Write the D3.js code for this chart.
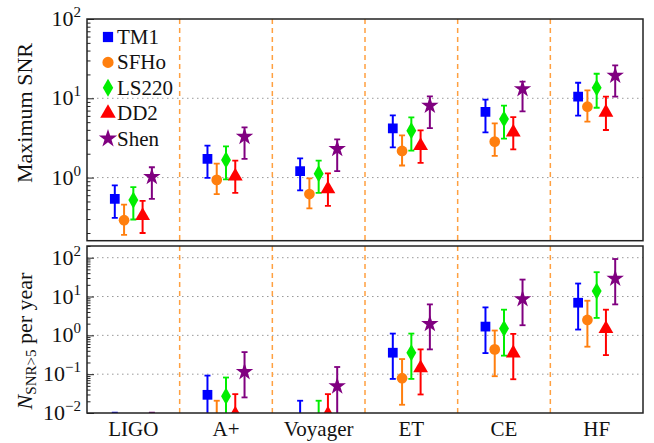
<!DOCTYPE html>
<html><head><meta charset="utf-8">
<script src="https://cdn.jsdelivr.net/npm/d3@7"></script>
</head><body style="margin:0">
<svg id="c" width="654" height="443"></svg>
<script>
const detectors = ["LIGO","A+","Voyager","ET","CE","HF"];
const eos = ["TM1","SFHo","LS220","DD2","Shen"];
const colors = ["#0000ff","#ff7f0e","#00ee00","#ff0000","#800080"];

// Maximum SNR: [value, lower, upper] per detector, per EOS
const snrTM1   = [[0.54,0.31,0.80],[1.72,0.99,2.53],[1.21,0.69,1.75],[4.18,2.41,6.1],[6.72,3.72,9.6],[10.5,6.04,15.7]];
const snrSFHo  = [[0.29,0.19,0.457],[0.935,0.62,1.5],[0.62,0.41,0.98],[2.17,1.42,3.41],[2.84,1.88,4.83],[7.84,5.07,12.6]];
const snrLS220 = [[0.52,0.296,0.76],[1.67,0.95,2.48],[1.12,0.64,1.64],[3.91,2.19,5.74],[5.48,3.1,8.07],[13.6,7.6,20.4]];
const snrDD2   = [[0.34,0.20,0.51],[1.07,0.64,1.64],[0.74,0.44,1.13],[2.6,1.53,3.94],[3.83,2.27,5.8],[6.84,3.98,10.5]];
const snrShen  = [[1.02,0.54,1.35],[3.28,1.72,4.3],[2.3,1.21,3.04],[8.07,4.2,10.6],[13.1,6.84,16.2],[19.3,10.5,26]];

// N_{SNR>5} per year: [value, lower, upper]
const rateTM1   = [[0.0001,0.00001,0.0102],[0.0294,0.001,0.092],[0.004,0.0005,0.0207],[0.357,0.0755,1.11],[1.68,0.349,5.25],[6.92,1.41,21.6]];
const rateSFHo  = [[0.0001,0.00001,0.005],[0.006,0.001,0.0207],[0.0001,0.00001,0.008],[0.0787,0.0163,0.245],[0.435,0.0886,1.33],[2.49,0.51,7.79]];
const rateLS220 = [[0.0001,0.00001,0.005],[0.0272,0.001,0.082],[0.004,0.0005,0.0207],[0.357,0.0755,1.11],[1.5,0.30,4.58],[13.8,2.81,42.3]];
const rateDD2   = [[0.0001,0.00001,0.005],[0.0098,0.001,0.0306],[0.0098,0.001,0.0306],[0.153,0.030,0.435],[0.37,0.074,1.09],[1.56,0.31,4.58]];
const rateShen  = [[0.0001,0.00001,0.0102],[0.114,0.0252,0.37],[0.049,0.005,0.153],[1.97,0.435,6.27],[8.6,1.82,27.3],[29,6.27,92.5]];

const snrSeries = [snrTM1,snrSFHo,snrLS220,snrDD2,snrShen];
const rateSeries = [rateTM1,rateSFHo,rateLS220,rateDD2,rateShen];

const topTicks = [1,10,100];
const botTicks = [0.01,0.1,1,10,100];

const FONT = '"Liberation Serif", serif';
const svg = d3.select("#c");
const L = 87, R = 643;
const x = d3.scaleBand().domain(detectors).range([L, R]);
const bw = x.bandwidth();
const yTop = d3.scaleLog().domain([0.16, 100]).range([240.7, 19]);
const yBot = d3.scaleLog().domain([0.01, 200]).range([413, 246]);

const symbols = [d3.symbolSquare, d3.symbolCircle, d3.symbolDiamond, d3.symbolTriangle, d3.symbolStar];
const sizes = [95, 90, 85, 95, 95];

function minorTicks(y){
  const [a,b] = y.domain();
  const out = [];
  for (let e = Math.floor(Math.log10(a)); e <= Math.ceil(Math.log10(b)); e++){
    for (let m = 2; m <= 9; m++){
      const v = m*Math.pow(10,e);
      if (v >= a && v <= b) out.push(v);
    }
  }
  return out;
}

function txt(sel){ return sel.style("font-family", FONT).attr("fill", "#111"); }

function panel(y, series, majors, gridVals, id){
  const [y0, y1] = y.range();
  const g = svg.append("g");
  svg.append("clipPath").attr("id", id).append("rect")
    .attr("x", L).attr("y", y1).attr("width", R-L).attr("height", y0-y1);
  g.selectAll("line.grid").data(gridVals).join("line")
    .attr("x1", L).attr("x2", R).attr("y1", d=>y(d)).attr("y2", d=>y(d))
    .attr("stroke", "#999").attr("stroke-width", 1).attr("stroke-dasharray", "1.5,3.5");
  g.selectAll("line.sep").data(detectors.slice(0,-1)).join("line")
    .attr("x1", d=>x(d)+bw).attr("x2", d=>x(d)+bw).attr("y1", y1).attr("y2", y0)
    .attr("stroke", "#ffa040").attr("stroke-width", 1.5).attr("stroke-dasharray", "5,4");
  const dg = g.append("g").attr("clip-path", `url(#${id})`);
  series.forEach((ser, i) => {
    const sg = dg.append("g");
    ser.forEach((d, j) => {
      const cx = x(detectors[j]) + bw/2 + (i-2)*0.1*bw;
      sg.append("line").attr("x1", cx).attr("x2", cx).attr("y1", y(d[1])).attr("y2", y(d[2]))
        .attr("stroke", colors[i]).attr("stroke-width", 2);
      [d[1], d[2]].forEach(v => {
        sg.append("line").attr("x1", cx-3).attr("x2", cx+3).attr("y1", y(v)).attr("y2", y(v))
          .attr("stroke", colors[i]).attr("stroke-width", 1.8);
      });
      sg.append("path").attr("d", d3.symbol().type(symbols[i]).size(sizes[i])())
        .attr("transform", `translate(${cx},${y(d[0])})` + (i===3 ? " translate(0,1)" : ""))
        .attr("fill", colors[i]);
    });
  });
  const ax = svg.append("g").attr("transform", `translate(${L},0)`);
  ax.call(d3.axisLeft(y).tickValues(minorTicks(y)).tickSize(-3.5).tickFormat(""));
  ax.select(".domain").remove();
  const ax2 = svg.append("g").attr("transform", `translate(${L},0)`);
  ax2.call(d3.axisLeft(y).tickValues(majors).tickSize(-7).tickFormat(""));
  ax2.select(".domain").remove();
  svg.selectAll(".tick line").attr("stroke", "#222").attr("stroke-width", 1);
  svg.selectAll(".tick text").remove();
  majors.forEach(v => {
    const e = Math.round(Math.log10(v));
    const t = txt(svg.append("text")).attr("x", 81).attr("y", y(v)+7)
      .attr("text-anchor", "end").attr("font-size", 22);
    t.append("tspan").text("10");
    t.append("tspan").attr("dy", -9).attr("font-size", 15).text(e < 0 ? "\u2212" + (-e) : String(e));
  });
  svg.append("rect").attr("x", L).attr("y", y1).attr("width", R-L).attr("height", y0-y1)
    .attr("fill", "none").attr("stroke", "#222").attr("stroke-width", 1.5);
}

panel(yTop, snrSeries, topTicks, [1,10], "clipTop");
panel(yBot, rateSeries, botTicks, [0.1,1,10,100], "clipBot");

detectors.forEach(d => {
  txt(svg.append("text")).attr("x", x(d)+bw/2).attr("y", 436).attr("text-anchor", "middle")
    .attr("font-size", 21).text(d);
});

txt(svg.append("text")).attr("transform", "translate(32,113) rotate(-90)").attr("text-anchor", "middle")
  .attr("font-size", 22).text("Maximum SNR");
const yl = txt(svg.append("text")).attr("transform", "translate(32,341) rotate(-90)").attr("text-anchor", "middle")
  .attr("font-size", 22);
yl.append("tspan").attr("font-style", "italic").text("N");
yl.append("tspan").attr("dy", 4).attr("font-size", 15).text("SNR>5");
yl.append("tspan").attr("dy", -4).text(" per year");

const leg = svg.append("g");
eos.forEach((name, i) => {
  const ly = 37 + i*25.4;
  leg.append("path").attr("d", d3.symbol().type(symbols[i]).size(sizes[i]*1.1)())
    .attr("transform", `translate(108,${ly})`).attr("fill", colors[i]);
  txt(leg.append("text")).attr("x", 117).attr("y", ly+7)
    .attr("font-size", 21).text(name);
});
</script>
</body></html>
